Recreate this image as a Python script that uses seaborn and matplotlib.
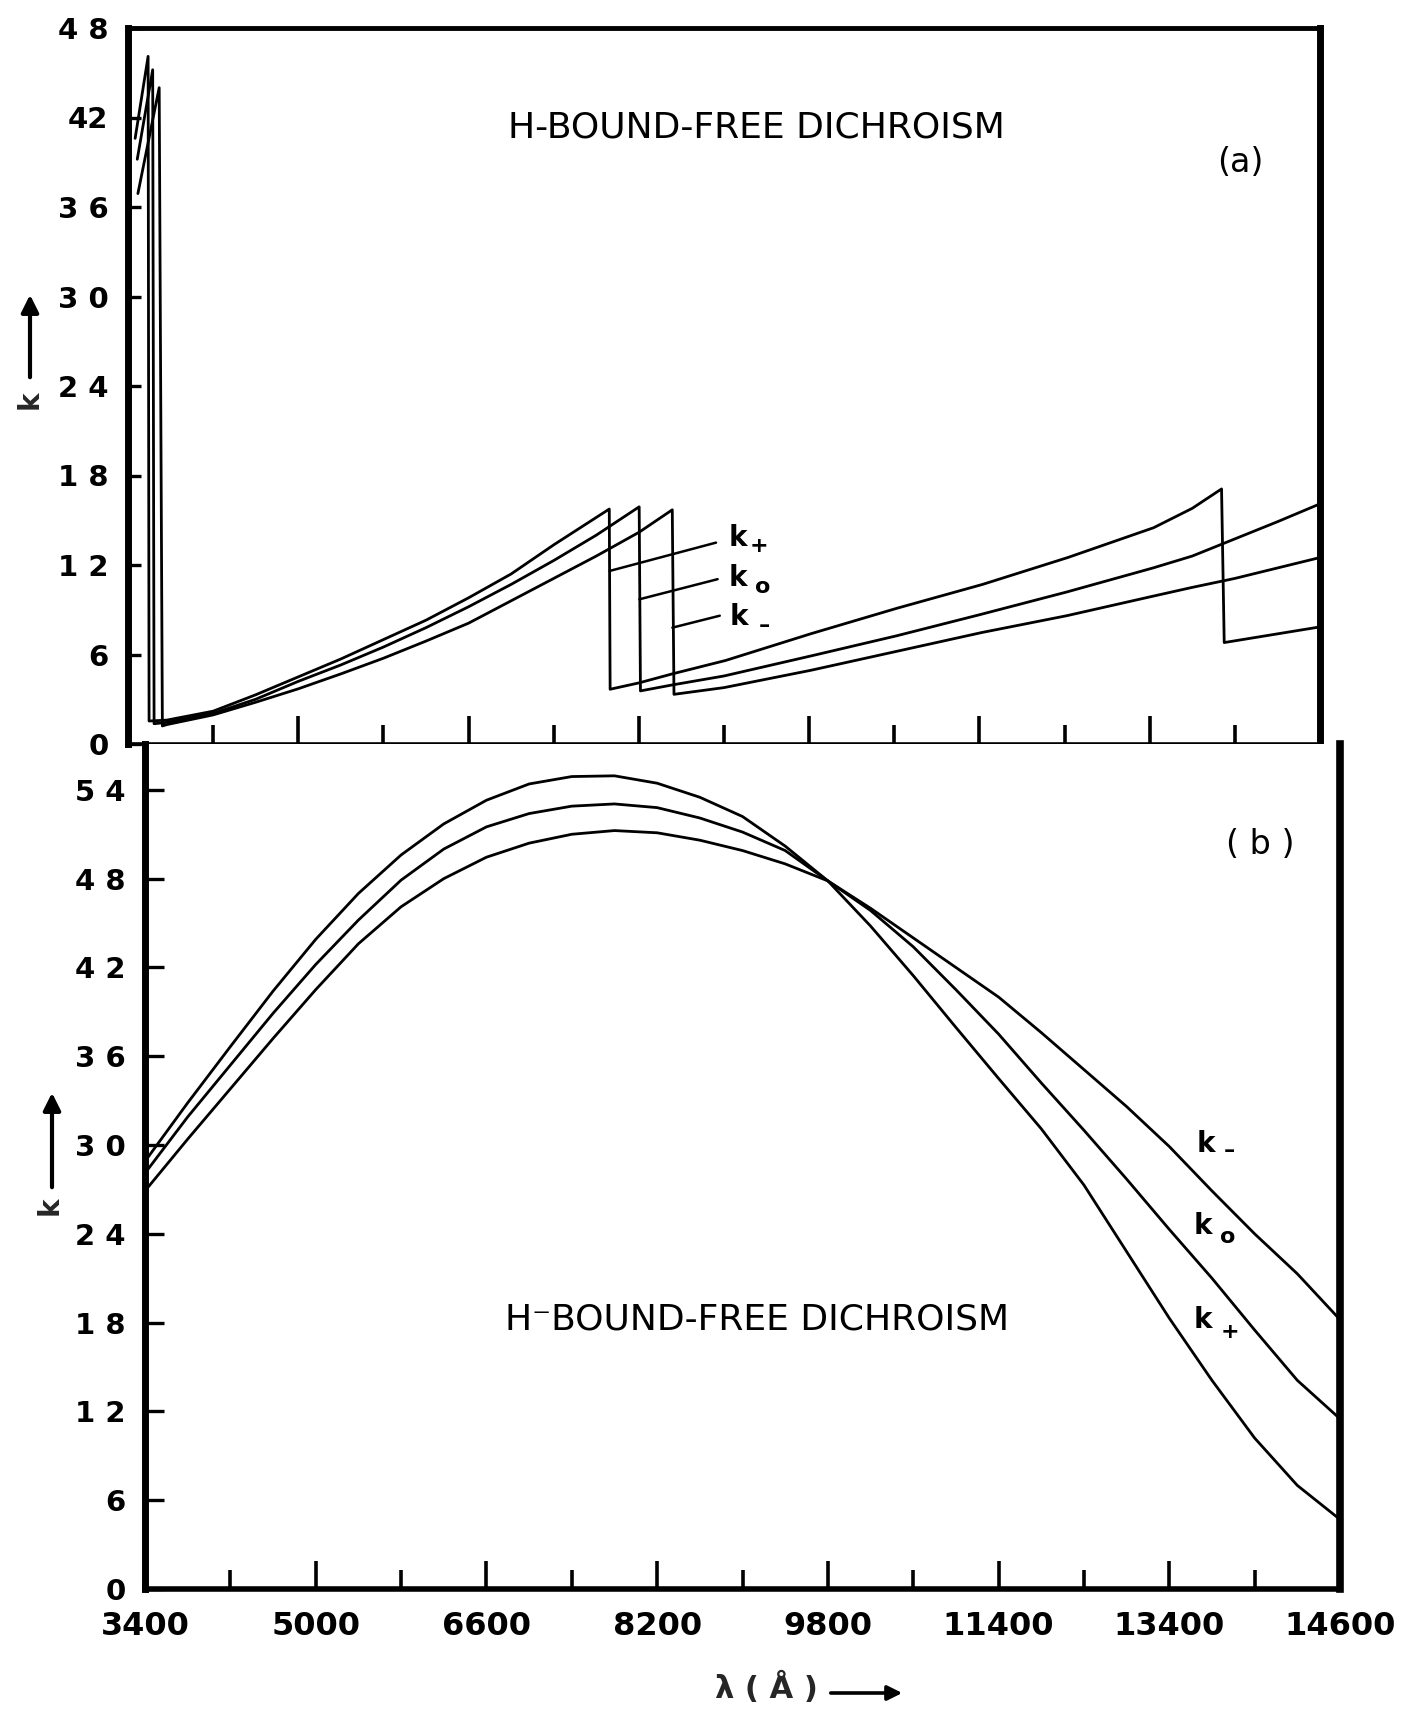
import matplotlib
matplotlib.use("Agg")
import matplotlib.pyplot as plt
import seaborn as sns

# ---------------- panel (a): H bound-free dichroism ----------------
wl_plus_a = [3467, 3589, 3598, 3764, 4200, 4600, 5000, 5400, 5800, 6200, 6600,
             7000, 7400, 7922, 7930, 8203, 8514, 9015, 9820, 10625, 11430,
             12230, 13037, 13400, 13675, 13700, 14600]
k_plus_a = [40.6, 46.1, 1.54, 1.6, 2.2, 3.3, 4.5, 5.7, 7.0, 8.3, 9.8,
            11.4, 13.35, 15.75, 3.67, 4.1, 4.7, 5.6, 7.4, 9.1, 10.7,
            12.5, 14.5, 15.8, 17.1, 6.8, 7.85]

wl_zero_a = [3487, 3632, 3645, 3764, 4200, 4600, 5000, 5400, 5800, 6200, 6600,
             7000, 7400, 7800, 8203, 8215, 8514, 9000, 9815, 10620, 11420,
             12225, 13030, 13400, 13800, 14200, 14600]
k_zero_a = [39.2, 45.2, 1.36, 1.45, 2.05, 3.0, 4.2, 5.3, 6.5, 7.8, 9.2,
            10.7, 12.3, 14.0, 15.9, 3.56, 3.96, 4.56, 5.9, 7.25, 8.7,
            10.2, 11.8, 12.6, 13.75, 14.9, 16.1]

wl_minus_a = [3493, 3693, 3723, 3764, 4200, 4600, 5000, 5400, 5800, 6200, 6600,
              7000, 7400, 7800, 8203, 8514, 8530, 9000, 9815, 10615, 11420,
              12220, 13025, 13400, 13800, 14200, 14600]
k_minus_a = [36.9, 44.0, 1.21, 1.3, 1.95, 2.8, 3.7, 4.7, 5.75, 6.9, 8.1,
             9.6, 11.1, 12.6, 14.2, 15.7, 3.33, 3.78, 4.94, 6.2, 7.47,
             8.6, 9.9, 10.5, 11.1, 11.8, 12.5]

# ---------------- panel (b): H- bound-free dichroism ----------------
wl_b = [3400, 3800, 4200, 4600, 5000, 5400, 5800, 6200, 6600, 7000, 7400,
        7800, 8200, 8600, 9000, 9400, 9800, 10200, 10600, 11000, 11400,
        11800, 12200, 12600, 13000, 13400, 13800, 14200, 14600]
k_plus_b = [28.9, 32.85, 36.65, 40.4, 43.9, 47.0, 49.6, 51.7, 53.3, 54.4, 54.9,
            54.95, 54.45, 53.5, 52.2, 50.2, 47.85, 44.8, 41.45, 37.95, 34.5,
            31.1, 27.3, 22.8, 18.3, 14.1, 10.2, 7.0, 4.7]
k_zero_b = [28.1, 31.9, 35.4, 38.9, 42.2, 45.2, 47.9, 50.0, 51.5, 52.4, 52.9,
            53.05, 52.8, 52.1, 51.15, 49.9, 47.85, 45.85, 43.4, 40.5, 37.5,
            34.2, 31.0, 27.7, 24.3, 21.0, 17.5, 14.1, 11.5]
k_minus_b = [26.9, 30.4, 33.8, 37.2, 40.5, 43.6, 46.1, 48.0, 49.45, 50.4, 51.0,
             51.25, 51.1, 50.6, 49.9, 49.0, 47.85, 46.0, 44.0, 42.0, 40.0,
             37.6, 35.1, 32.6, 29.9, 26.9, 24.0, 21.3, 18.2]

# ---------------- axis ticks ----------------
wl_major = [3400, 5000, 6600, 8200, 9800, 11400, 13000, 14600]
wl_major_labels = ["3400", "5000", "6600", "8200", "9800", "11400", "13400", "14600"]
wl_minor = [4200, 5800, 7400, 9000, 10600, 12200, 13800]
k_ticks_a = [0, 6, 12, 18, 24, 30, 36, 42, 48]
k_labels_a = ["0", "6", "1 2", "1 8", "2 4", "3 0", "3 6", "42", "4 8"]
k_ticks_b = [0, 6, 12, 18, 24, 30, 36, 42, 48, 54]
k_labels_b = ["0", "6", "1 2", "1 8", "2 4", "3 0", "3 6", "4 2", "4 8", "5 4"]

sns.set_style("white")
plt.rcParams["font.family"] = ["DejaVu Sans"]

W, H = 1407, 1709
fig = plt.figure(figsize=(W / 100, H / 100), dpi=100)


def box(x0, y0, x1, y1):
    return [x0 / W, 1 - y1 / H, (x1 - x0) / W, (y1 - y0) / H]


def fxy(x, y):
    return (x / W, 1 - y / H)


ax_a = fig.add_axes(box(128, 28, 1320, 744))
ax_b = fig.add_axes(box(145, 744, 1340, 1589))

line_kw = dict(color="black", linewidth=2.0, sort=False, estimator=None)
for wl, k in [(wl_plus_a, k_plus_a), (wl_zero_a, k_zero_a), (wl_minus_a, k_minus_a)]:
    sns.lineplot(x=wl, y=k, ax=ax_a, **line_kw)
for k in (k_plus_b, k_zero_b, k_minus_b):
    sns.lineplot(x=wl_b, y=k, ax=ax_b, **line_kw)

# ---------------- axes styling ----------------
ax_a.set_xlim(3400, 14600)
ax_a.set_ylim(0, 48)
ax_b.set_xlim(3400, 14600)
ax_b.set_ylim(0, 57.1)

for ax in (ax_a, ax_b):
    ax.set_xlabel("")
    ax.set_ylabel("")
    ax.set_facecolor("white")
    for s in ax.spines.values():
        s.set_color("black")

ax_a.spines["left"].set_linewidth(5.0)
ax_a.spines["right"].set_linewidth(5.0)
ax_a.spines["top"].set_linewidth(3.5)
ax_a.spines["bottom"].set_linewidth(2.6)
ax_b.spines["left"].set_linewidth(5.0)
ax_b.spines["right"].set_linewidth(5.5)
ax_b.spines["bottom"].set_linewidth(4.0)
ax_b.spines["top"].set_visible(False)

ax_a.set_xticks(wl_major[1:-1])
ax_a.set_xticks(wl_minor, minor=True)
ax_a.set_xticklabels([])
ax_a.set_yticks(k_ticks_a)
ax_a.set_yticklabels(k_labels_a)

ax_b.set_xticks(wl_major)
ax_b.set_xticklabels(wl_major_labels)
ax_b.set_xticks(wl_minor, minor=True)
ax_b.set_yticks(k_ticks_b)
ax_b.set_yticklabels(k_labels_b)

for ax, ylen in ((ax_a, 9), (ax_b, 14)):
    ax.tick_params(axis="x", which="major", direction="in", length=20, width=2.6,
                   color="black", top=False, bottom=True)
    ax.tick_params(axis="x", which="minor", direction="in", length=14, width=2.6,
                   color="black", top=False, bottom=True)
    ax.tick_params(axis="y", which="major", direction="in", length=ylen, width=2.4,
                   color="black", left=True, right=False, pad=14,
                   labelsize=21, labelcolor="black")
    for lab in ax.get_yticklabels():
        lab.set_fontweight("bold")

ax_b.tick_params(axis="x", which="major", pad=16, labelsize=23, labelcolor="black")
for lab in ax_b.get_xticklabels():
    lab.set_fontweight("bold")

# ---------------- annotations ----------------
fig.text(*fxy(756, 127), "H-BOUND-FREE DICHROISM", ha="center", va="center",
         fontsize=26, color="black")
fig.text(*fxy(757, 1319), "H\u207bBOUND-FREE DICHROISM", ha="center", va="center",
         fontsize=26, color="black")
fig.text(*fxy(1240, 162), "(a)", ha="center", va="center", fontsize=24, color="black")
fig.text(*fxy(1260, 845), "( b )", ha="center", va="center", fontsize=24, color="black")

# leader lines and curve names in panel (a)
for (x0, y0, x1, y1) in [(7925, 11.6, 8925, 13.5), (8205, 9.7, 8940, 11.05),
                         (8515, 7.8, 8960, 8.6)]:
    ax_a.plot([x0, x1], [y0, y1], color="black", lw=1.8)

name_kw = dict(ha="left", va="center", fontsize=20, fontweight="bold", color="black")
sub_kw = dict(ha="center", va="center", fontsize=16, fontweight="bold", color="black")
ax_a.text(9040, 13.8, "k", **name_kw)
ax_a.text(9330, 13.3, "+", **sub_kw)
ax_a.text(9040, 11.1, "k", **name_kw)
ax_a.text(9360, 10.5, "o", **sub_kw)
ax_a.text(9055, 8.5, "k", **name_kw)
ax_a.text(9380, 7.9, "\u2013", **sub_kw)

ax_b.text(13259, 30.1, "k", **name_kw)
ax_b.text(13560, 29.6, "\u2013", **sub_kw)
ax_b.text(13231, 24.5, "k", **name_kw)
ax_b.text(13550, 23.8, "o", **sub_kw)
ax_b.text(13231, 18.2, "k", **name_kw)
ax_b.text(13568, 17.4, "+", **sub_kw)

# y-axis names with arrows
arrow_kw = dict(arrowstyle="-|>", lw=3.0, color="black", mutation_scale=26)
fig.text(*fxy(30, 400), "k", rotation=90, ha="center", va="center",
         fontsize=20, fontweight="bold")
ax_a.annotate("", xy=fxy(30, 292), xytext=fxy(30, 380),
              xycoords="figure fraction", textcoords="figure fraction",
              arrowprops=arrow_kw)
fig.text(*fxy(50, 1206), "k", rotation=90, ha="center", va="center",
         fontsize=20, fontweight="bold")
ax_b.annotate("", xy=fxy(52, 1090), xytext=fxy(52, 1190),
              xycoords="figure fraction", textcoords="figure fraction",
              arrowprops=arrow_kw)

# x-axis name with arrow
fig.text(*fxy(766, 1688), "\u03bb ( \u00c5 )", ha="center", va="center",
         fontsize=22, fontweight="bold")
ax_b.annotate("", xy=fxy(905, 1693), xytext=fxy(828, 1693),
              xycoords="figure fraction", textcoords="figure fraction",
              arrowprops=dict(arrowstyle="-|>", lw=2.6, color="black",
                              mutation_scale=22))

fig.savefig("out.png", dpi=100, facecolor="white")
